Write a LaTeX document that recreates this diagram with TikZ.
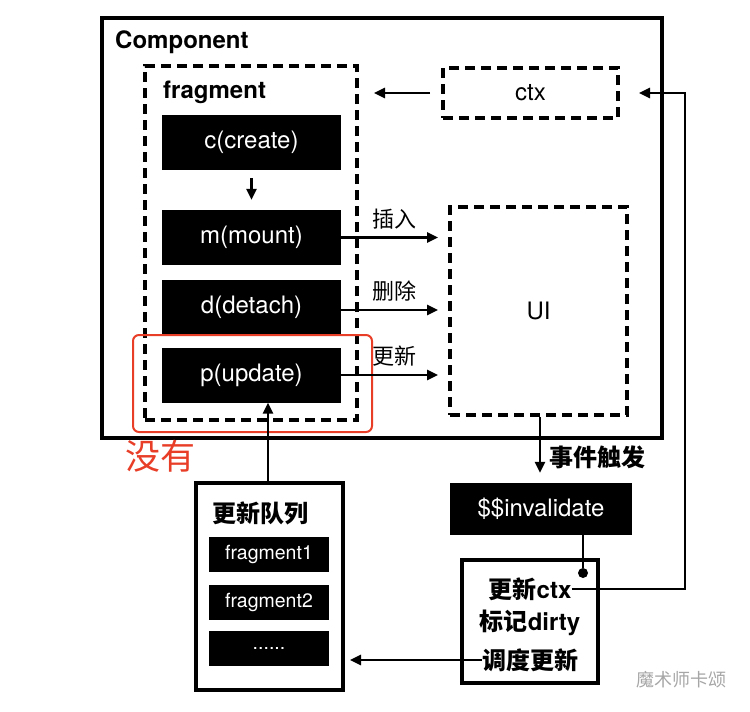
\documentclass[tikz,border=0pt]{standalone}
\usepackage{fontspec}
\setmainfont{TeX Gyre Heros}
\newfontfamily\cjk{Noto Sans CJK SC}
\usetikzlibrary{arrows.meta, positioning, calc}
\definecolor{mark}{RGB}{232,62,40}

\begin{document}
\begin{tikzpicture}[x=1pt, y=-1pt,
  blk/.style={fill=black, text=white, minimum width=179pt, minimum height=55pt, inner sep=0pt, font=\fontsize{24}{28}\selectfont},
  qblk/.style={fill=black, text=white, minimum width=120pt, minimum height=35pt, inner sep=0pt, font=\fontsize{19.5}{22}\selectfont},
  dbox/.style={draw, line width=4pt, dash pattern=on 10pt off 6pt, inner sep=0pt},
  sbox/.style={draw, line width=4pt, inner sep=0pt},
  lbl/.style={inner sep=0pt, font=\fontsize{#1}{#1}\selectfont\bfseries},
  arr/.style={-{Triangle[length=11pt, width=10pt]}, line width=2.5pt},
  line/.style={line width=2.5pt},
]
\useasboundingbox (0,0) rectangle (750,712);

% Boxes
\node[sbox, minimum width=560pt, minimum height=420pt] (comp) at (382,228) {};
\node[lbl=24, anchor=west] (comptxt) at (115,42) {Component};
\node[dbox, minimum width=212pt, minimum height=354pt] (frag) at (251,243) {};
\node[lbl=24, anchor=west] (fragtxt) at (163,92) {fragment};
\node[blk] (create) at (251.5,142.5) {c(create)};
\node[blk] (mount) at (251.5,237.5) {m(mount)};
\node[blk] (detach) at (251.5,307.5) {d(detach)};
\node[blk] (update) at (251.5,375) {p(update)};
\node[dbox, minimum width=175pt, minimum height=50pt, font=\fontsize{24}{28}\selectfont] (ctx) at (530.5,93) {ctx};
\node[dbox, minimum width=177pt, minimum height=208pt, font=\fontsize{24}{28}\selectfont] (ui) at (538.5,311) {UI};
\node[draw=mark, line width=2pt, rounded corners=6pt, minimum width=239pt, minimum height=97pt] (miss) at (252.5,383.5) {};
\node[text=mark, inner sep=0pt, font=\fontsize{35}{35}\selectfont\cjk] (misstxt) at (160,456) {没有};

\node[blk, minimum width=182pt, minimum height=52pt] (inval) at (541,509) {\$\$invalidate};
\node[sbox, minimum width=136pt, minimum height=123pt] (sched) at (530,621.5) {};
\node[lbl=24] (updctx) at (530,589) {{\cjk 更新}ctx};
\node[lbl=24] (dirty) at (530,623) {{\cjk 标记}dirty};
\node[lbl=24] (plan) at (530,660) {\cjk 调度更新};
\node[circle, fill, minimum size=10pt, inner sep=0pt] (dot) at (583,573) {};

\node[sbox, minimum width=147pt, minimum height=207pt] (queue) at (269.5,586.5) {};
\node[lbl=24] (queuetxt) at (260,513) {\cjk 更新队列};
\node[qblk] (frag1) at (269,554.5) {fragment1};
\node[qblk] (frag2) at (269,602.5) {fragment2};
\node[qblk] (fragn) at (269,648) {......};

\node[text=gray!70, inner sep=0pt, font=\fontsize{18}{18}\selectfont\cjk] (wm) at (681,680) {魔术师卡颂};
\coordinate (loop) at (685,93);

% Connectors
\draw[arr, shorten <=8pt, shorten >=10pt] (create) -- (mount);
\draw[arr, shorten <=11pt, shorten >=15pt] (ctx) -- (frag.east |- ctx);
\draw[arr, shorten >=10pt] (mount.east) -- node[lbl=22, above=7pt, pos=0.5, font=\fontsize{22}{22}\selectfont\cjk] {插入} (ui.west |- mount);
\draw[arr, shorten >=10pt] (detach.east |- 0,310) -- node[lbl=22, above=7pt, pos=0.5, font=\fontsize{22}{22}\selectfont\cjk] {删除} (ui.west |- 0,310);
\draw[arr, shorten >=10pt] (update.east) -- node[lbl=22, above=7pt, pos=0.5, font=\fontsize{22}{22}\selectfont\cjk] {更新} (ui.west |- update);
\draw[arr, shorten >=10pt] (ui.south -| 540,0) -- node[lbl=24, right=8pt, pos=0.62, font=\fontsize{24}{24}\selectfont\cjk\bfseries] {事件触发} (inval.north -| 540,0);
\draw[line] (inval.south -| dot) -- (dot);
\draw[arr, shorten >=19pt] (updctx.east) -| (loop) -- (ctx.east);
\draw[arr, shorten >=5pt] (plan.west) -- (queue.east |- plan);
\draw[arr] (queue.north -| 268,0) -- (update.south -| 268,0);

\end{tikzpicture}
\end{document}
